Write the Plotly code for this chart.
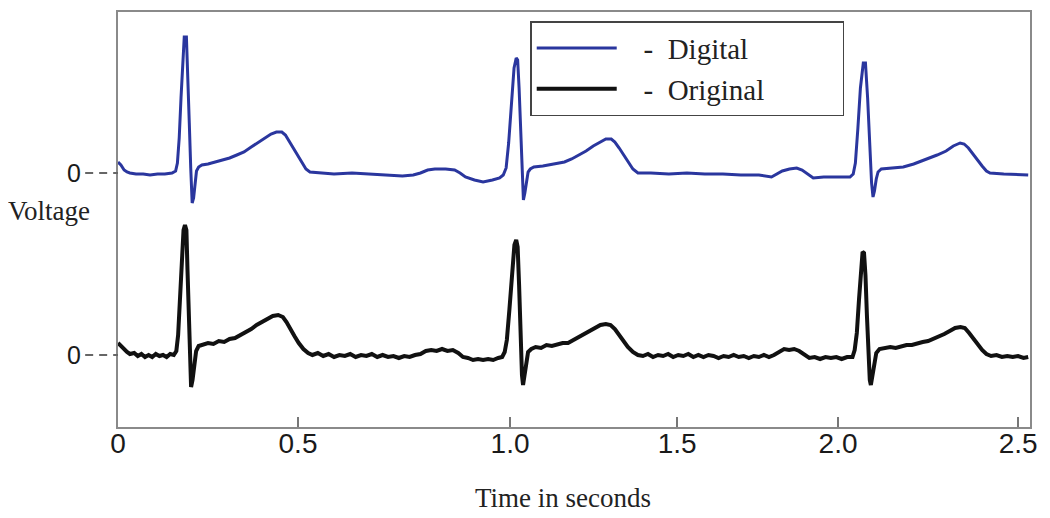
import plotly.graph_objects as go

# ECG traces: time in s, voltage relative to each trace's own zero
digital_t = [0.000, 0.008, 0.017, 0.025, 0.033, 0.050, 0.070, 0.089, 0.110, 0.130,
             0.150, 0.160, 0.165, 0.170, 0.175, 0.180, 0.184, 0.190, 0.194, 0.198,
             0.202, 0.206, 0.210, 0.214, 0.218, 0.224, 0.233, 0.250, 0.270, 0.290,
             0.310, 0.330, 0.350, 0.370, 0.390, 0.410, 0.425, 0.440, 0.455, 0.465,
             0.475, 0.485, 0.497, 0.510, 0.522, 0.533, 0.560, 0.600, 0.650, 0.700,
             0.750, 0.790, 0.820, 0.840, 0.860, 0.880, 0.910, 0.935, 0.950, 0.965,
             0.990, 1.014, 1.040, 1.060, 1.070, 1.078, 1.085, 1.092, 1.100, 1.106,
             1.110, 1.114, 1.118, 1.122, 1.126, 1.130, 1.134, 1.139, 1.145, 1.155,
             1.180, 1.210, 1.240, 1.260, 1.280, 1.300, 1.320, 1.340, 1.355, 1.370,
             1.380, 1.392, 1.405, 1.418, 1.430, 1.444, 1.480, 1.530, 1.580, 1.630,
             1.680, 1.730, 1.780, 1.815, 1.830, 1.845, 1.865, 1.885, 1.900, 1.915,
             1.931, 1.960, 2.000, 2.033, 2.042, 2.048, 2.055, 2.062, 2.070, 2.076,
             2.082, 2.088, 2.093, 2.097, 2.101, 2.106, 2.111, 2.120, 2.150, 2.181,
             2.210, 2.240, 2.275, 2.300, 2.320, 2.339, 2.350, 2.362, 2.374, 2.386,
             2.400, 2.412, 2.422, 2.460, 2.500, 2.528]
digital_v = [0.11, 0.08, 0.03, 0.01, 0.00, -0.01, -0.01, -0.02, -0.01, -0.01,
             0.00, 0.02, 0.10, 0.35, 0.75, 1.15, 1.36, 1.36, 1.00, 0.50,
             0.05, -0.30, -0.25, -0.10, 0.02, 0.06, 0.08, 0.09, 0.11, 0.13,
             0.15, 0.18, 0.21, 0.26, 0.31, 0.36, 0.39, 0.41, 0.41, 0.38,
             0.32, 0.25, 0.18, 0.10, 0.04, 0.01, 0.00, -0.01, 0.00, -0.01,
             -0.02, -0.03, -0.02, 0.00, 0.03, 0.04, 0.04, 0.03, 0.00, -0.04,
             -0.07, -0.09, -0.07, -0.05, -0.02, 0.05, 0.30, 0.70, 1.05, 1.15,
             1.13, 0.85, 0.40, -0.05, -0.27, -0.20, -0.08, 0.01, 0.04, 0.06,
             0.07, 0.09, 0.11, 0.14, 0.18, 0.22, 0.27, 0.31, 0.34, 0.34,
             0.31, 0.25, 0.18, 0.10, 0.04, 0.00, 0.00, -0.01, 0.00, -0.01,
             -0.01, -0.02, -0.02, -0.04, -0.01, 0.02, 0.04, 0.05, 0.03, -0.01,
             -0.05, -0.04, -0.04, -0.04, -0.01, 0.10, 0.45, 0.85, 1.10, 1.10,
             0.75, 0.30, -0.10, -0.24, -0.18, -0.06, 0.01, 0.04, 0.05, 0.06,
             0.09, 0.13, 0.18, 0.22, 0.27, 0.30, 0.29, 0.25, 0.19, 0.13,
             0.07, 0.02, 0.00, -0.01, -0.02, -0.02]

original_t = [0.000, 0.008, 0.017, 0.025, 0.033, 0.045, 0.055, 0.065, 0.075, 0.085,
              0.095, 0.105, 0.115, 0.125, 0.135, 0.145, 0.155, 0.162, 0.167, 0.172,
              0.177, 0.182, 0.186, 0.190, 0.193, 0.196, 0.199, 0.203, 0.207, 0.212,
              0.217, 0.224, 0.235, 0.250, 0.265, 0.280, 0.295, 0.310, 0.325, 0.340,
              0.355, 0.370, 0.385, 0.400, 0.415, 0.430, 0.445, 0.458, 0.468, 0.478,
              0.490, 0.502, 0.515, 0.528, 0.540, 0.555, 0.570, 0.585, 0.600, 0.615,
              0.630, 0.645, 0.660, 0.675, 0.690, 0.705, 0.720, 0.735, 0.750, 0.765,
              0.780, 0.795, 0.810, 0.825, 0.840, 0.855, 0.870, 0.885, 0.900, 0.915,
              0.930, 0.945, 0.958, 0.972, 0.986, 1.000, 1.014, 1.028, 1.042, 1.056,
              1.067, 1.074, 1.080, 1.087, 1.094, 1.101, 1.106, 1.110, 1.114, 1.118,
              1.122, 1.125, 1.129, 1.134, 1.139, 1.148, 1.160, 1.175, 1.190, 1.205,
              1.220, 1.235, 1.250, 1.265, 1.280, 1.295, 1.310, 1.325, 1.340, 1.355,
              1.368, 1.380, 1.392, 1.404, 1.416, 1.430, 1.444, 1.458, 1.472, 1.486,
              1.500, 1.514, 1.528, 1.542, 1.556, 1.570, 1.584, 1.598, 1.612, 1.626,
              1.640, 1.654, 1.668, 1.682, 1.696, 1.710, 1.724, 1.738, 1.752, 1.766,
              1.780, 1.794, 1.808, 1.822, 1.836, 1.850, 1.864, 1.878, 1.892, 1.906,
              1.920, 1.935, 1.950, 1.965, 1.980, 1.995, 2.010, 2.025, 2.040, 2.046,
              2.052, 2.058, 2.063, 2.068, 2.072, 2.076, 2.080, 2.084, 2.088, 2.091,
              2.095, 2.100, 2.106, 2.115, 2.130, 2.145, 2.160, 2.175, 2.190, 2.205,
              2.220, 2.235, 2.250, 2.265, 2.280, 2.295, 2.310, 2.325, 2.340, 2.352,
              2.364, 2.376, 2.388, 2.400, 2.412, 2.425, 2.440, 2.455, 2.470, 2.485,
              2.500, 2.515, 2.528]
original_v = [0.12, 0.09, 0.05, 0.03, 0.01, 0.02, -0.01, 0.01, -0.02, 0.00,
              -0.02, 0.01, -0.01, 0.00, -0.02, 0.01, 0.00, 0.04, 0.20, 0.55,
              0.95, 1.25, 1.30, 1.25, 0.85, 0.40, 0.00, -0.32, -0.25, -0.10,
              0.04, 0.09, 0.10, 0.12, 0.11, 0.14, 0.13, 0.16, 0.17, 0.20,
              0.22, 0.26, 0.30, 0.33, 0.37, 0.39, 0.40, 0.38, 0.33, 0.26,
              0.19, 0.12, 0.06, 0.02, 0.00, 0.02, -0.01, 0.01, -0.02, 0.00,
              -0.01, 0.01, -0.02, 0.00, -0.01, 0.01, -0.02, 0.00, -0.02, -0.01,
              -0.03, -0.01, -0.02, 0.00, 0.01, 0.04, 0.05, 0.04, 0.06, 0.04,
              0.05, 0.02, -0.02, -0.03, -0.05, -0.04, -0.05, -0.04, -0.05, -0.03,
              -0.02, 0.03, 0.15, 0.45, 0.85, 1.10, 1.15, 1.08, 0.70, 0.20,
              -0.20, -0.30, -0.22, -0.08, 0.03, 0.06, 0.08, 0.07, 0.10, 0.09,
              0.11, 0.12, 0.12, 0.15, 0.18, 0.22, 0.24, 0.27, 0.30, 0.31,
              0.30, 0.26, 0.20, 0.14, 0.08, 0.03, 0.00, -0.01, 0.01, -0.02,
              0.00, -0.01, 0.01, -0.02, 0.00, -0.01, 0.01, -0.02, 0.00, -0.02,
              0.00, -0.01, -0.03, -0.01, -0.02, 0.00, -0.02, -0.01, -0.03, -0.01,
              -0.02, 0.00, -0.02, 0.00, 0.03, 0.06, 0.05, 0.06, 0.04, 0.01,
              -0.03, -0.02, -0.04, -0.02, -0.03, -0.02, -0.04, -0.02, -0.02, 0.05,
              0.22, 0.55, 0.85, 1.03, 1.02, 0.80, 0.40, 0.00, -0.25, -0.30,
              -0.22, -0.08, 0.02, 0.06, 0.07, 0.08, 0.07, 0.09, 0.10, 0.10,
              0.12, 0.13, 0.14, 0.16, 0.19, 0.21, 0.24, 0.27, 0.28, 0.27,
              0.22, 0.16, 0.10, 0.05, 0.01, -0.01, 0.00, -0.02, -0.01, -0.02,
              -0.01, -0.03, -0.02]

# tick labels sit where the picture puts them (the printed axis is not evenly spaced)
x_tick_vals = [0, 0.5, 1.089, 1.553, 2.0, 2.5]
x_tick_text = ["0", "0.5", "1.0", "1.5", "2.0", "2.5"]

# vertical shift of the digital trace above the original one
DIGITAL_OFFSET = 1.82
NB = '\u00a0'

fig = go.Figure()
fig.add_trace(go.Scatter(x=digital_t, y=[v + DIGITAL_OFFSET for v in digital_v],
                         mode='lines', name=NB * 3 + '-' + NB * 2 + 'Digital',
                         line=dict(color='#2a369e', width=3)))
fig.add_trace(go.Scatter(x=original_t, y=original_v,
                         mode='lines', name=NB * 3 + '-' + NB * 2 + 'Original' + NB * 10,
                         line=dict(color='#111111', width=4)))

# dashed stubs next to the two zero labels
for y0 in [0, DIGITAL_OFFSET]:
    fig.add_shape(type='line', xref='paper', yref='y', x0=-0.036, x1=0, y0=y0, y1=y0,
                  line=dict(color='#666666', width=2, dash='8px,6px'))

fig.add_annotation(text='Voltage', xref='paper', yref='paper', x=-0.123, y=0.52,
                   xanchor='left', yanchor='middle', showarrow=False,
                   font=dict(family='Liberation Serif', size=27, color='#222222'))
fig.add_annotation(text='Time in seconds', xref='paper', yref='paper', x=0.488, y=-0.17,
                   xanchor='center', yanchor='middle', showarrow=False,
                   font=dict(family='Liberation Serif', size=27, color='#222222'))

# the page body adds an 8px offset, so the margins are shifted by that much
fig.update_layout(
    width=1050, height=518,
    margin=dict(l=110, r=28, t=4, b=99),
    paper_bgcolor='white', plot_bgcolor='white',
    showlegend=True,
    legend=dict(x=0.452, y=0.978, xanchor='left', yanchor='top',
                bordercolor='#444444', borderwidth=1.5, bgcolor='white',
                itemwidth=80, tracegroupgap=0,
                font=dict(family='Liberation Serif', size=29, color='#222222')),
    xaxis=dict(range=[0, 2.533], tickvals=x_tick_vals, ticktext=x_tick_text,
               ticks='inside', ticklen=10, tickcolor='#777777', tickwidth=1.5,
               showline=True, mirror=True, linecolor='#8a8a8a', linewidth=2,
               showgrid=False, zeroline=False, automargin=False,
               ticklabelstandoff=-10,
               tickfont=dict(family='Liberation Sans', size=28, color='#1a1a1a')),
    yaxis=dict(range=[-0.72, 3.43], tickvals=[0, DIGITAL_OFFSET], ticktext=['0', '0'],
               ticks='outside', ticklen=30, tickcolor='rgba(0,0,0,0)',
               showline=True, mirror=True, linecolor='#8a8a8a', linewidth=2,
               showgrid=False, zeroline=False, automargin=False,
               tickfont=dict(family='Liberation Sans', size=25, color='#1a1a1a')),
)

fig.write_html("out.html")
